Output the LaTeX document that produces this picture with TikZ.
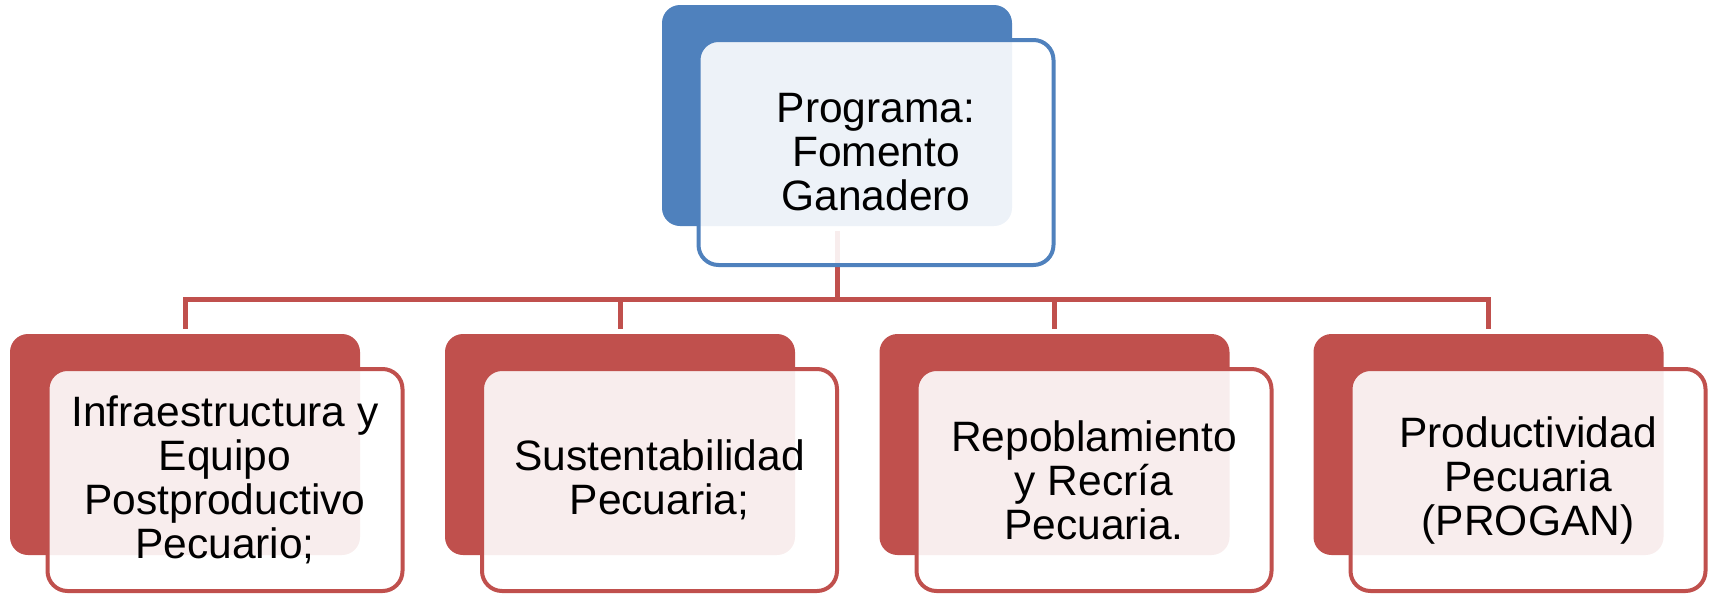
\documentclass[tikz,border=0pt]{standalone}
\usepackage{fontspec}
\setmainfont{Liberation Sans}
\definecolor{blueA}{HTML}{4F81BD}
\definecolor{redA}{HTML}{C0504D}
\tikzset{
  backbox/.style={rectangle, rounded corners=18pt, minimum width=350pt, minimum height=221pt, inner sep=0pt, fill=#1, draw=none},
  frontbox/.style={rectangle, rounded corners=20pt, minimum width=355pt, minimum height=222pt, inner sep=0pt, draw=#1, line width=4pt, fill=white, fill opacity=0.9, text opacity=1, text=black, align=center, font=\fontsize{42.5}{44}\selectfont},
  conn/.style={draw=redA, line width=5pt}
}
\begin{document}
\begin{tikzpicture}[x=1pt,y=-1pt]
\useasboundingbox (0,0) rectangle (1713,595);
% back boxes
\node[backbox=blueA] (tb) at (837,115.5) {};
\node[backbox=redA] (b1) at (185,444.5) {};
\node[backbox=redA] (b2) at (620,444.5) {};
\node[backbox=redA] (b3) at (1054.5,444.5) {};
\node[backbox=redA] (b4) at (1488.5,444.5) {};
% connectors
\coordinate (bus) at (837,299);
\draw[conn] ([yshift=-5pt]tb.south) -- (bus);
\draw[conn] ([yshift=5pt]b1.north) |- (bus) -| ([yshift=5pt]b4.north);
\draw[conn] ([yshift=5pt]b2.north) -- (b2.north |- bus);
\draw[conn] ([yshift=5pt]b3.north) -- (b3.north |- bus);
% front boxes
\node[frontbox=blueA, minimum height=225pt] (tf) at (876,152.5) {Programa:\\Fomento\\Ganadero};
\node[frontbox=redA] (f1) at (225,480) {Infraestructura y\\Equipo\\Postproductivo\\Pecuario;};
\node[frontbox=redA] (f2) at (659.5,480) {Sustentabilidad\\Pecuaria;};
\node[frontbox=redA] (f3) at (1094,480) {Repoblamiento\\y Recría\\Pecuaria.};
\node[frontbox=redA] (f4) at (1528,480) {Productividad\\Pecuaria\\(PROGAN)};
\end{tikzpicture}
\end{document}
